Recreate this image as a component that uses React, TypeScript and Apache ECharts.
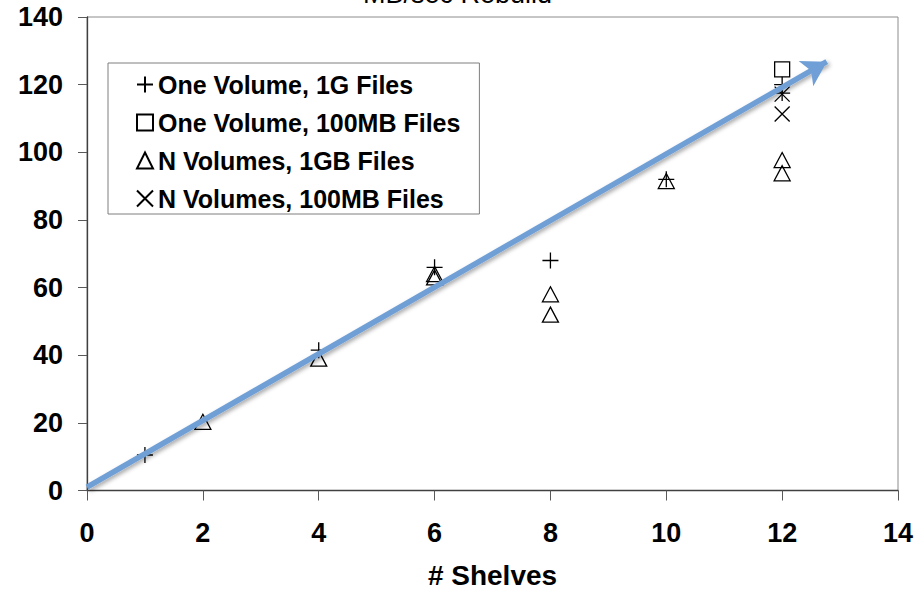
import React, { useEffect, useRef } from "react";
import * as echarts from "echarts";

// ---- Data ----
const seriesNames = [
  "One Volume, 1G Files",
  "One Volume, 100MB Files",
  "N Volumes, 1GB Files",
  "N Volumes, 100MB Files",
];
const oneVolume1G: number[][] = [
  [1, 10.5],
  [4, 41.5],
  [6, 66],
  [8, 68],
  [10, 92],
  [12, 120],
  [12, 117.5],
];
const oneVolume100MB: number[][] = [[12, 124.5]];
const nVolumes1GB: number[][] = [
  [2, 20.3],
  [4, 39],
  [6, 64],
  [6, 63],
  [8, 58],
  [8, 52],
  [10, 91.5],
  [12, 97.7],
  [12, 93.8],
];
const nVolumes100MB: number[][] = [
  [12, 117.2],
  [12, 111.3],
];
const trendStart = [0, 1];
const trendEnd = [12.77, 126.8];

const xMin = 0;
const xMax = 14;
const xStep = 2;
const yMin = 0;
const yMax = 140;
const yStep = 20;

const titleText = "MB/sec Rebuild";
const xAxisName = "# Shelves";

const FONT = "'Liberation Sans', Arial, sans-serif";

const PLUS = "path://M0,8 L16,8 M8,0 L8,16";
const CROSS = "path://M0,0 L16,16 M16,0 L0,16";

export default function App() {
  const ref = useRef<HTMLDivElement>(null);

  useEffect(() => {
    if (!ref.current) return;
    const chart = echarts.init(ref.current, undefined, { renderer: "svg" });

    const markerStyle = {
      color: "rgba(0,0,0,0)",
      borderColor: "#000",
      borderWidth: 1.3,
      opacity: 1,
    };

    const option: any = {
      animation: false,
      backgroundColor: "#fff",
      title: {
        text: titleText,
        left: "center",
        top: -25,
        textStyle: {
          fontFamily: FONT,
          fontSize: 27,
          fontWeight: "normal",
          color: "#000",
        },
      },
      grid: {
        left: 87,
        right: 17,
        top: 17,
        bottom: 99.5,
        containLabel: false,
        outerBoundsMode: "none",
        show: true,
        borderColor: "#8c8c8c",
        borderWidth: 1,
        backgroundColor: "transparent",
      },
      legend: {
        orient: "vertical",
        left: 108,
        top: 63,
        padding: [9, 19, 3, 28],
        itemGap: 13,
        itemWidth: 16,
        itemHeight: 16,
        borderColor: "#7f7f7f",
        borderWidth: 1,
        backgroundColor: "#fff",
        selectedMode: false,
        data: seriesNames,
        textStyle: {
          fontFamily: FONT,
          fontSize: 25,
          fontWeight: "bold",
          color: "#000",
        },
      },
      xAxis: {
        type: "value",
        min: xMin,
        max: xMax,
        interval: xStep,
        name: xAxisName,
        nameLocation: "middle",
        nameGap: 74,
        nameTextStyle: {
          fontFamily: FONT,
          fontSize: 28,
          lineHeight: 22,
          fontWeight: "bold",
          color: "#000",
        },
        axisLine: { show: true, onZero: false, lineStyle: { color: "#404040", width: 1.3 } },
        axisTick: { show: true, inside: false, length: 10, lineStyle: { color: "#595959" } },
        axisLabel: {
          margin: 29,
          fontFamily: FONT,
          fontSize: 27,
          fontWeight: "bold",
          color: "#000",
        },
        splitLine: { show: false },
      },
      yAxis: {
        type: "value",
        min: yMin,
        max: yMax,
        interval: yStep,
        axisLine: { show: true, onZero: false, lineStyle: { color: "#404040", width: 1.3 } },
        axisTick: { show: true, inside: false, length: 9, lineStyle: { color: "#595959" } },
        axisLabel: {
          margin: 24,
          fontFamily: FONT,
          fontSize: 27,
          fontWeight: "bold",
          color: "#000",
        },
        splitLine: { show: false },
      },
      series: [
        {
          name: seriesNames[0],
          type: "scatter",
          symbol: PLUS,
          symbolSize: 16,
          itemStyle: markerStyle,
          data: oneVolume1G,
          z: 3,
        },
        {
          name: seriesNames[1],
          type: "scatter",
          symbol: "rect",
          symbolSize: 15,
          itemStyle: markerStyle,
          data: oneVolume100MB,
          z: 3,
        },
        {
          name: seriesNames[2],
          type: "scatter",
          symbol: "triangle",
          symbolSize: [16, 15],
          itemStyle: markerStyle,
          data: nVolumes1GB,
          z: 3,
        },
        {
          name: seriesNames[3],
          type: "scatter",
          symbol: CROSS,
          symbolSize: 15,
          itemStyle: markerStyle,
          data: nVolumes100MB,
          z: 3,
        },
        {
          name: "trend",
          type: "line",
          data: [],
          silent: true,
          z: 5,
          markLine: {
            silent: true,
            animation: false,
            symbol: ["none", "arrow"],
            symbolSize: [22, 24],
            label: { show: false },
            emphasis: { disabled: true },
            lineStyle: {
              color: "#6f9fd6",
              width: 5.5,
              type: "solid",
              shadowColor: "rgba(0,0,0,0.35)",
              shadowBlur: 4,
              shadowOffsetX: 2,
              shadowOffsetY: 2,
            },
            data: [
              [
                { coord: trendStart },
                { coord: trendEnd },
              ],
            ],
          },
        },
      ],
    };

    chart.setOption(option);
    return () => chart.dispose();
  }, []);

  return (
    <div
      ref={ref}
      style={{ position: "fixed", left: 0, top: 0, width: 915, height: 590 }}
    />
  );
}
